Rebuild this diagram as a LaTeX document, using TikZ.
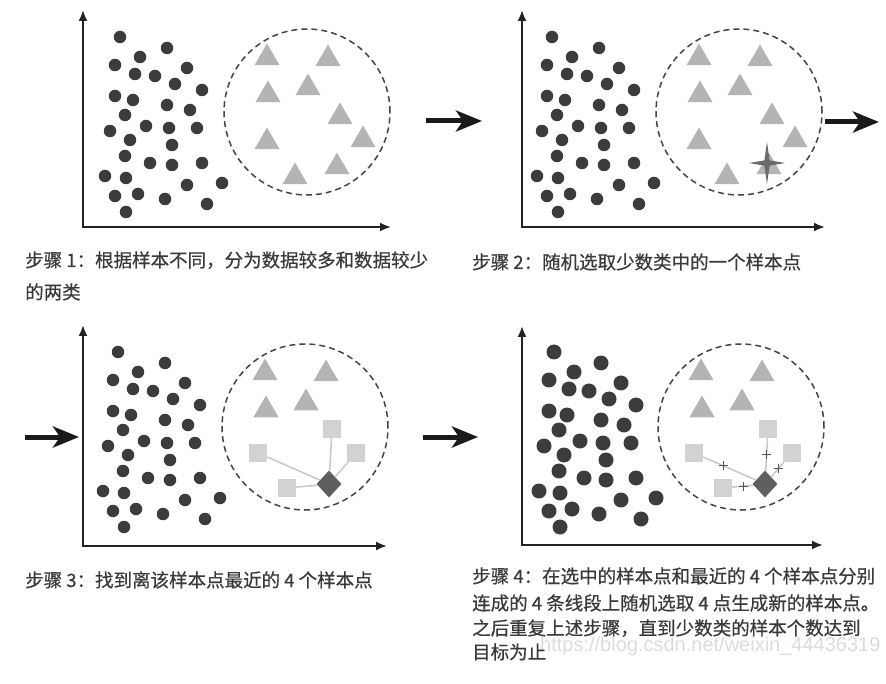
\documentclass[tikz,border=0pt]{standalone}
\usepackage{fontspec}
\newfontfamily\cjk[FakeBold=0.5]{Noto Sans CJK SC}
\newfontfamily\wmfont{Liberation Sans}
\usetikzlibrary{arrows.meta,shapes.geometric}
\definecolor{dotc}{HTML}{3C3C3C}
\definecolor{tric}{HTML}{B4B4B4}
\definecolor{sqc}{HTML}{D2D2D2}
\definecolor{dmc}{HTML}{5E5E5E}
\definecolor{starc}{HTML}{6A6A6A}
\definecolor{circc}{HTML}{444444}
\definecolor{connc}{HTML}{C8C8C8}
\definecolor{pluscol}{HTML}{555555}
\definecolor{axc}{HTML}{222222}
\definecolor{arc}{HTML}{1A1A1A}
\definecolor{txtc}{HTML}{3A3A3A}
\definecolor{wmc}{HTML}{DCDCDC}
\tikzset{
 dot/.style={circle, fill=dotc, inner sep=0pt, minimum size=12.5pt},
 tri/.style={regular polygon, regular polygon sides=3, fill=tric, inner sep=0pt, minimum size=29pt},
 sq/.style={rectangle, fill=sqc, inner sep=0pt, minimum size=18pt},
 dm/.style={diamond, fill=dmc, inner sep=0pt, minimum width=25pt, minimum height=27pt},
 dcirc/.style={circle, draw=circc, line width=1.5pt, dash pattern=on 6pt off 4pt, minimum size=166pt, inner sep=0pt},
 conn/.style={draw=connc, line width=1.5pt},
 plusm/.style={inner sep=0pt, minimum size=9pt, path picture={\draw[pluscol, line width=1pt] (path picture bounding box.north) -- (path picture bounding box.south) (path picture bounding box.west) -- (path picture bounding box.east);}},
 axis/.style={draw=axc, line width=2pt, {Latex[length=11pt,width=9pt]}-{Latex[length=11pt,width=9pt]}},
 bigarrow/.style={draw=arc, line width=5pt, -{Stealth[length=26pt,width=21pt,inset=7pt]}},
 steptext/.style={anchor=base west, inner sep=0pt, text=txtc, font=\cjk\fontsize{18.5}{22}\selectfont},
 wmtext/.style={anchor=base west, inner sep=0pt, text=wmc, font=\wmfont\fontsize{20}{24}\selectfont},
}
\newcommand\mydots[1]{%
 \foreach \x/\y [count=\i] in {120/37,167/48,140/57,115/65,187/68,135/74,155/76,175/84,202/90,115/96,133/100,167/105,190/110,125/115,110/131,146/126,169/128,197/128,130/140,172/145,125/156,150/163,172/165,202/163,105/176,126/178,187/185,222/183,115/196,138/194,165/199,207/204,126/212}{\node[dot] (#1d\i) at (\x,\y) {};}}
\newcommand\mytrisall[1]{%
 \foreach \x/\y [count=\i] in {267/58,328/59,268/95,308/88,340/117,267/142,363/140,337/167,295/177}{\node[tri] (#1t\i) at (\x,\y) {};}}
\newcommand\mytrisfew[1]{%
 \foreach \x/\y [count=\i] in {267/58,328/59,268/95,308/88}{\node[tri] (#1t\i) at (\x,\y) {};}}
\newcommand\mysquares[1]{%
 \node[sq] (#1a) at (334,114) {};
 \node[sq] (#1b) at (358,138) {};
 \node[sq] (#1c) at (260,138) {};
 \node[sq] (#1e) at (289,173) {};
 \node[dm] (#1m) at (331,169) {};}
\begin{document}
\begin{tikzpicture}[x=1pt,y=-1pt]
\useasboundingbox[fill=white] (0,0) rectangle (886,684);
% ---------- axes ----------
\coordinate (y1) at (83,10);  \coordinate (o1) at (83,227);  \coordinate (x1) at (391,227);
\coordinate (y2) at (522,10); \coordinate (o2) at (522,227); \coordinate (x2) at (825,227);
\coordinate (y3) at (83,325); \coordinate (o3) at (83,546);  \coordinate (x3) at (387,546);
\coordinate (y4) at (522,326);\coordinate (o4) at (522,545); \coordinate (x4) at (823,545);
\draw[axis] (y1) -- (o1) -- (x1);
\draw[axis] (y2) -- (o2) -- (x2);
\draw[axis] (y3) -- (o3) -- (x3);
\draw[axis] (y4) -- (o4) -- (x4);
% ---------- panel 1 ----------
\mydots{p1}
\node[dcirc] (p1circ) at (307,112) {};
\mytrisall{p1}
% ---------- panel 2 ----------
\begin{scope}[shift={(432,0)}]
\mydots{p2}
\node[dcirc] (p2circ) at (307,112) {};
\mytrisall{p2}
\fill[starc] (335,163) ++(0,-21) -- ++(2.6,18.4) -- ++(15.4,2.6) -- ++(-15.4,2.6) -- ++(-2.6,18.4) -- ++(-2.6,-18.4) -- ++(-15.4,-2.6) -- ++(15.4,-2.6) -- cycle;
\end{scope}
% ---------- panel 3 ----------
\begin{scope}[shift={(-2,315)}]
\mydots{p3}
\node[dcirc] (p3circ) at (307,112) {};
\mytrisfew{p3}
\mysquares{p3}
\draw[conn] (p3a) -- (p3m);
\draw[conn] (p3b) -- (p3m);
\draw[conn] (p3c) -- (p3m);
\draw[conn] (p3e) -- (p3m);
\end{scope}
% ---------- panel 4 ----------
\begin{scope}[shift={(434,315)}, dot/.append style={minimum size=15pt}]
\mydots{p4}
\node[dcirc] (p4circ) at (307,112) {};
\mytrisfew{p4}
\mysquares{p4}
\draw[conn] (p4a) -- node[plusm, pos=0.5] (p4pa) {} (p4m);
\draw[conn] (p4b) -- node[plusm, pos=0.45] (p4pb) {} (p4m);
\draw[conn] (p4c) -- node[plusm, pos=0.38] (p4pc) {} (p4m);
\draw[conn] (p4e) -- node[plusm, pos=0.54] (p4pe) {} (p4m);
\end{scope}
% ---------- big arrows ----------
\coordinate (a1s) at (426,121); \coordinate (a1e) at (482,121);
\coordinate (a2s) at (825,122); \coordinate (a2e) at (879,122);
\coordinate (a3s) at (25,437);  \coordinate (a3e) at (79,437);
\coordinate (a4s) at (423,437); \coordinate (a4e) at (478,437);
\draw[bigarrow] (a1s) -- (a1e);
\draw[bigarrow] (a2s) -- (a2e);
\draw[bigarrow] (a3s) -- (a3e);
\draw[bigarrow] (a4s) -- (a4e);
% ---------- texts ----------
\node[steptext] (s1a) at (25,267) {步骤 1：根据样本不同，分为数据较多和数据较少};
\node[steptext] (s1b) at (25,299) {的两类};
\node[steptext] (s2) at (472,269) {步骤 2：随机选取少数类中的一个样本点};
\node[steptext] (s3) at (25,587) {步骤 3：找到离该样本点最近的 4 个样本点};
\node[wmtext] (wm) at (540,651) {https://blog.csdn.net/weixin\_44436319};
\node[steptext] (s4a) at (472,583) {步骤 4：在选中的样本点和最近的 4 个样本点分别};
\node[steptext] (s4b) at (472,610) {连成的 4 条线段上随机选取 4 点生成新的样本点。};
\node[steptext] (s4c) at (472,635) {之后重复上述步骤，直到少数类的样本个数达到};
\node[steptext] (s4d) at (472,659) {目标为止};
\end{tikzpicture}
\end{document}
